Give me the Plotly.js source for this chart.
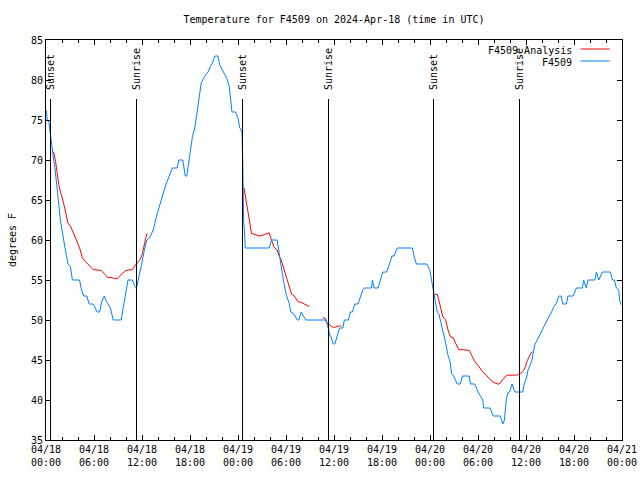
<!DOCTYPE html>
<html>
<head>
<meta charset="utf-8">
<script src="https://cdn.plot.ly/plotly-3.0.1.min.js"></script>
<style>
html,body{margin:0;padding:0;background:#fff;}
#chart{width:640px;height:480px;}
</style>
</head>
<body>
<div id="chart"></div>
<script>
// Hours after 2024-04-18 00:00 UTC
var obsHours = [0.05,0.15,0.35,0.55,0.67,0.88,1.09,1.3,1.5,1.8,2.05,2.34,2.55,2.75,3.05,3.3,4.2,4.4,4.7,5.1,5.4,5.9,6.4,6.7,6.96,7.3,7.55,8.05,8.4,9.4,9.6,9.96,10.25,10.8,11.1,11.3,11.55,11.9,12.3,12.6,12.96,13.4,13.8,14.2,14.7,15.05,15.5,15.8,16.4,16.6,17.1,17.4,17.6,17.96,18.3,18.6,18.8,19.1,19.4,19.8,20.25,20.55,20.8,21.1,21.5,21.7,22.05,22.3,22.6,22.9,23.05,23.25,23.7,24.0,24.2,24.5,24.6,24.7,24.84,24.9,27.9,28.2,28.9,29.1,29.4,29.7,30.05,30.4,30.6,30.96,31.2,31.4,31.6,31.9,32.1,32.5,35.05,35.25,35.5,35.6,35.9,36.1,36.4,36.7,37.1,37.3,37.8,38.05,38.3,38.6,39.0,39.3,39.6,39.8,40.7,40.8,41.0,41.5,41.8,42.1,42.6,42.9,43.25,43.5,43.9,45.8,46.0,46.3,47.6,47.96,48.2,48.4,48.6,48.9,49.1,49.4,49.7,49.96,50.25,50.5,50.7,50.96,51.4,51.8,52.05,52.9,53.05,53.6,54.0,54.4,54.6,54.7,55.5,55.9,56.8,57.1,57.3,57.55,57.75,57.96,58.25,58.6,59.6,59.8,60.05,60.25,60.7,61.1,61.4,61.7,62.05,62.5,62.75,63.2,63.5,63.8,64.1,64.4,64.6,65.05,65.25,65.9,66.3,67.05,67.2,67.55,67.75,68.6,68.8,69.1,69.55,70.55,70.8,71.05,71.3,71.6,71.7,71.9];
var obsTemps = [76.2,75,74.8,73.1,71.7,70.6,69.2,67.5,65.4,62.5,60.8,59.2,58.1,57,56.7,55,55,53.9,53,53,52,52,51,51,52.3,53,52.3,51.5,50,50,51.25,53.3,55,55,54.2,54,55,56.7,58.75,60,60.3,61.25,62.9,64.4,66,67.1,68.3,69,69,70,70,68,68,70.8,72.9,74,75.4,77.5,79.6,80.4,81,81.7,82.1,83,83,81.9,81.25,80.8,80.2,79.2,77.7,76,76,75.2,74.1,73.5,69.6,62.5,60.5,59,59,60,60,58.5,56.7,54.8,53.1,52.1,51,50.8,50.4,50,50,51,50.6,50,50,49,48,48,47,47,48,49,49,50,50,51,51,52,52,53,53.75,54,54,55,54,54,55,56,56,57,58,58,59,59,58,57,57,56.3,55,54,53,51,50.8,49.6,48.1,47.1,45.6,44.8,43.3,43,42,42,43,43,42,42,41,40.4,40,39,39,38,38,37,37.5,40.2,40.9,41,42,41,41,42.1,42.7,43.75,44.8,46.9,47.5,48.3,49,49.8,50.2,51,51.7,52.1,53,53,52,52,53,53,54,54,55,54,55,55,56,55,56,56,55,55,54,53.75,52.5,51.9];

var anaHours = [0.88,0.96,1.2,1.4,1.6,1.84,2.0,2.2,2.5,2.75,3.05,3.4,3.8,4.2,4.55,4.84,5.1,5.46,5.9,6.4,6.9,7.3,7.75,8.3,8.46,8.9,9.3,9.84,10.25,10.8,11.2,11.5,11.8,12.05,12.25,12.46,12.6,12.7,null,
  24.75,25.05,25.25,25.5,25.7,26.1,26.6,27.1,27.55,27.9,28.05,28.3,28.5,28.9,29.1,29.4,29.7,30.05,30.4,30.7,30.96,31.2,31.5,31.9,32.5,32.9,null,
  34.6,34.9,35.1,35.5,35.8,36.2,36.5,36.9,null,
  48.6,48.9,49.1,49.3,49.6,49.96,50.25,50.55,50.9,51.2,51.6,52.1,52.9,53.2,53.6,54.1,54.6,55.05,55.55,55.96,56.6,57.05,57.6,58.8,59.4,59.7,59.96,60.1,60.4,60.7,60.8];
var anaTemps = [71,71,69.8,68.3,66.9,65.8,65.4,64.6,63.3,62.1,61.75,61,60,59,57.8,57.4,57.1,56.7,56.3,56.25,56.2,55.75,55.3,55.3,55.2,55.2,55.6,56.1,56.25,56.3,56.9,57.3,57.6,58.3,59.4,60.2,60.75,60.75,null,
  66.5,64.6,63.75,62.1,60.8,60.7,60.5,60.6,60.75,60.9,60.4,59.7,59.1,58.75,58.1,57.5,56.5,55.2,54,53.2,53.1,52.7,52.3,52.2,51.9,51.7,null,
  50.3,50.2,49.6,49.4,49.1,49.1,49.25,49.25,null,
  53.2,53.2,52.5,51.7,50.4,50,48.75,47.9,47.8,47.1,46.3,46.3,46.2,45.6,44.8,44.2,43.5,43.1,42.5,42.2,41.96,42.5,43.1,43.1,43.4,43.7,44.2,44.8,45.5,46.0,46.0];

var eventHours = [0.5, 11.25, 24.5, 35.25, 48.375, 59.125];
var eventLabels = ["Sunset","Sunrise","Sunset","Sunrise","Sunset","Sunrise"];

var seriesNames = ["F4509 Analysis", "F4509"];
var seriesColors = ["#ff0000", "#0080ff"];

function hToDate(h){
  if (h === null) return null;
  var d = new Date(Date.UTC(2024,3,18) + Math.round(h*3600)*1000);
  return d.toISOString().slice(0,19).replace('T',' ');
}

var FONT = "DejaVu Sans Mono";

var traces = [
  {x: anaHours.map(hToDate), y: anaTemps, type:'scatter', mode:'lines', name: seriesNames[0],
   line:{color:seriesColors[0], width:1}, connectgaps:false, showlegend:false},
  {x: obsHours.map(hToDate), y: obsTemps, type:'scatter', mode:'lines', name: seriesNames[1],
   line:{color:seriesColors[1], width:1}, showlegend:false}
];

var shapes = [];
var annotations = [];
eventHours.forEach(function(h, i){
  shapes.push({type:'line', xref:'x', yref:'paper', x0:hToDate(h), x1:hToDate(h), y0:0, y1:0.853,
    line:{color:'#000', width:1}});
  annotations.push({xref:'x', yref:'paper', x:hToDate(h), y:0.87, text:eventLabels[i], textangle:-90,
    showarrow:false, xanchor:'center', yanchor:'bottom', font:{family:FONT, size:10, color:'#000'}});
});

// custom legend (text right-justified, sample line on the right)
var legY = [0.975, 0.945];
seriesNames.forEach(function(n, i){
  annotations.push({xref:'paper', yref:'paper', x:0.916, y:legY[i], text:n, showarrow:false,
    xanchor:'right', yanchor:'middle', font:{family:FONT, size:10, color:'#000'}});
  shapes.push({type:'line', xref:'paper', yref:'paper', x0:0.928, x1:0.9787, y0:legY[i]+0.0025, y1:legY[i]+0.0025,
    line:{color:seriesColors[i], width:1}});
});

var layout = {
  width:640, height:480,
  margin:{l:46, r:18, t:40, b:40},
  paper_bgcolor:'#fff', plot_bgcolor:'#fff',
  font:{family:FONT, size:10, color:'#000'},
  title:{text:'Temperature for F4509 on 2024-Apr-18 (time in UTC)', x:0.5, xref:'paper', xanchor:'center',
    y:1-19/480, yref:'container', yanchor:'middle', font:{family:FONT, size:10, color:'#000'}},
  xaxis:{type:'date', range:[hToDate(0), hToDate(72)], tick0:hToDate(0), dtick:21600000,
    tickformat:'%m/%d<br>%H:%M', ticks:'inside', ticklen:5, tickcolor:'#000', tickwidth:1,
    showline:true, linecolor:'#000', linewidth:1, mirror:'allticks', showgrid:false, zeroline:false,
    minor:{dtick:7200000, ticks:'inside', ticklen:3, tickcolor:'#000', showgrid:false},
    tickfont:{family:FONT, size:10, color:'#000'}},
  yaxis:{range:[35,85], tick0:35, dtick:5, ticks:'inside', ticklen:5, tickcolor:'#000', tickwidth:1,
    showline:true, linecolor:'#000', linewidth:1, mirror:'allticks', showgrid:false, zeroline:false,
    tickfont:{family:FONT, size:10, color:'#000'},
    title:{text:'degrees F', font:{family:FONT, size:10, color:'#000'}, standoff:12}},
  shapes:shapes, annotations:annotations, showlegend:false
};

Plotly.newPlot('chart', traces, layout, {displayModeBar:false, staticPlot:true}).then(function(gd){
  // crisp black sunrise/sunset lines like the reference
  gd.querySelectorAll('.shapelayer path').forEach(function(p){
    var s = (p.style.stroke || p.getAttribute('stroke') || '').replace(/\s/g,'');
    if (s === 'rgb(0,0,0)' || s === '#000' || s === '#000000') p.style.shapeRendering = 'crispEdges';
  });
});
</script>
</body>
</html>
